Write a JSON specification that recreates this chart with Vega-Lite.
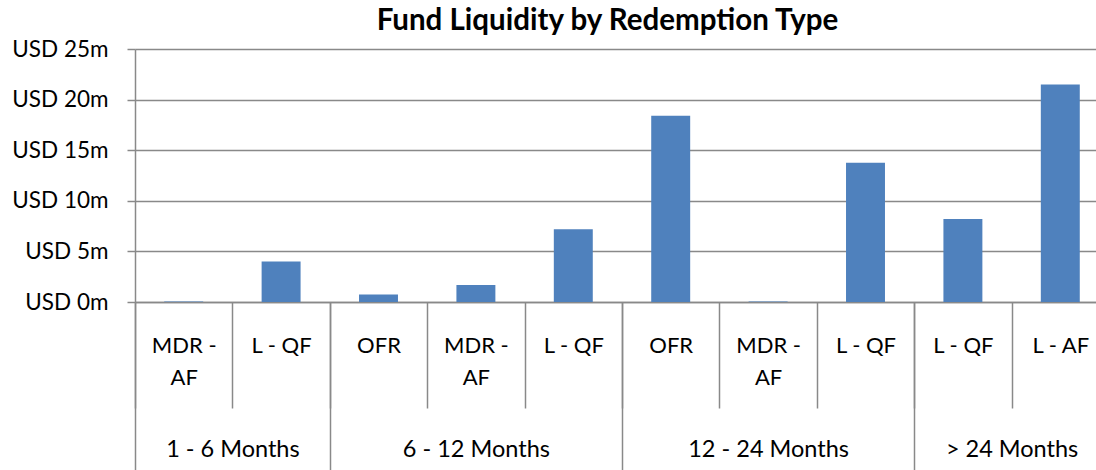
{
  "$schema": "https://vega.github.io/schema/vega-lite/v6.json",
  "width": 961,
  "height": 253,
  "autosize": {"type": "none"},
  "padding": {"left": 135, "top": 49, "right": 0, "bottom": 168},
  "background": "white",
  "title": {
    "text": "Fund Liquidity by Redemption Type",
    "font": "Lato",
    "fontSize": 29.5,
    "fontWeight": "bold",
    "color": "#000000",
    "anchor": "middle",
    "frame": "group",
    "dx": -8,
    "offset": 2
  },
  "config": {"view": {"stroke": null}},
  "datasets": {
    "bars": [
      {"slot": "1 - 6 Months|MDR - AF", "period": "1 - 6 Months", "type": "MDR - AF", "value": 0.05},
      {"slot": "1 - 6 Months|L - QF", "period": "1 - 6 Months", "type": "L - QF", "value": 4.0},
      {"slot": "6 - 12 Months|OFR", "period": "6 - 12 Months", "type": "OFR", "value": 0.75},
      {"slot": "6 - 12 Months|MDR - AF", "period": "6 - 12 Months", "type": "MDR - AF", "value": 1.68},
      {"slot": "6 - 12 Months|L - QF", "period": "6 - 12 Months", "type": "L - QF", "value": 7.2},
      {"slot": "12 - 24 Months|OFR", "period": "12 - 24 Months", "type": "OFR", "value": 18.4},
      {"slot": "12 - 24 Months|MDR - AF", "period": "12 - 24 Months", "type": "MDR - AF", "value": 0.05},
      {"slot": "12 - 24 Months|L - QF", "period": "12 - 24 Months", "type": "L - QF", "value": 13.75},
      {"slot": "> 24 Months|L - QF", "period": "> 24 Months", "type": "L - QF", "value": 8.2},
      {"slot": "> 24 Months|L - AF", "period": "> 24 Months", "type": "L - AF", "value": 21.5}
    ],
    "periods": [
      {"period": "1 - 6 Months", "bars": 2},
      {"period": "6 - 12 Months", "bars": 3},
      {"period": "12 - 24 Months", "bars": 3},
      {"period": "> 24 Months", "bars": 2}
    ]
  },
  "layer": [
    {
      "data": {"name": "bars"},
      "mark": {"type": "bar", "width": {"band": 0.4}, "color": "#4F81BD"},
      "encoding": {
        "x": {
          "field": "slot",
          "type": "nominal",
          "sort": null,
          "scale": {"range": [0, 974], "paddingInner": 0, "paddingOuter": 0},
          "axis": {
            "orient": "bottom",
            "title": null,
            "domain": true,
            "domainColor": "#898989",
            "domainWidth": 1.5,
            "ticks": true,
            "tickBand": "extent",
            "tickSize": 106,
            "tickColor": "#898989",
            "tickWidth": 1.5,
            "grid": false,
            "labelExpr": "split(datum.label, '|')[1] == 'MDR - AF' ? ['MDR -', 'AF'] : split(datum.label, '|')[1]",
            "labelFont": "Lato",
            "labelFontSize": 22,
            "labelColor": "#000000",
            "labelAngle": 0,
            "labelBaseline": "top",
            "labelPadding": -73,
            "labelLineHeight": 32,
            "labelOverlap": false,
            "labelLimit": 0
          }
        },
        "y": {
          "field": "value",
          "type": "quantitative",
          "scale": {"domain": [0, 25], "nice": false},
          "axis": {
            "title": null,
            "values": [0, 5, 10, 15, 20, 25],
            "labelExpr": "'USD ' + datum.value + 'm'",
            "grid": true,
            "gridColor": "#898989",
            "gridWidth": 1.5,
            "domain": true,
            "domainColor": "#898989",
            "domainWidth": 1.5,
            "ticks": true,
            "tickColor": "#898989",
            "tickSize": 8,
            "tickWidth": 1.5,
            "labelFont": "Lato",
            "labelFontSize": 22.5,
            "labelColor": "#000000",
            "labelPadding": 19,
            "labelFlush": false
          }
        }
      }
    },
    {
      "data": {"name": "periods"},
      "mark": {"type": "point", "opacity": 0},
      "encoding": {
        "x": {
          "field": "bars",
          "type": "quantitative",
          "scale": {"domain": [0, 10], "range": [0, 974], "nice": false, "zero": false},
          "axis": {
            "orient": "bottom",
            "title": null,
            "values": [0, 2, 5, 8, 10],
            "labels": false,
            "domain": false,
            "grid": false,
            "ticks": true,
            "tickSize": 170,
            "tickColor": "#898989",
            "tickWidth": 1.5
          }
        }
      }
    },
    {
      "data": {"name": "periods"},
      "mark": {"type": "point", "opacity": 0},
      "encoding": {
        "x": {
          "field": "bars",
          "type": "quantitative",
          "scale": {"domain": [0, 10], "range": [0, 974], "nice": false, "zero": false},
          "axis": {
            "orient": "bottom",
            "title": null,
            "values": [1, 3.5, 6.5, 9],
            "labelExpr": "datum.value == 1 ? '1 - 6 Months' : datum.value == 3.5 ? '6 - 12 Months' : datum.value == 6.5 ? '12 - 24 Months' : '> 24 Months'",
            "domain": false,
            "grid": false,
            "ticks": false,
            "labelFont": "Lato",
            "labelFontSize": 23.5,
            "labelColor": "#000000",
            "labelBaseline": "top",
            "labelPadding": 135,
            "labelFlush": false,
            "labelOverlap": false,
            "labelLimit": 0
          }
        }
      }
    }
  ],
  "resolve": {"scale": {"x": "independent"}, "axis": {"x": "independent"}}
}
